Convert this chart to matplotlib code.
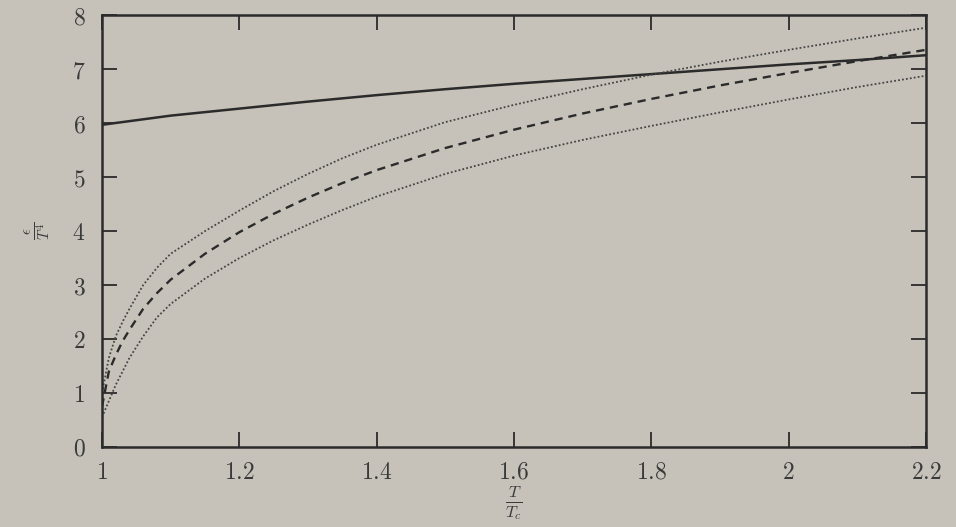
import matplotlib
matplotlib.use("Agg")
import matplotlib.pyplot as plt
from matplotlib.ticker import FuncFormatter

plt.rcParams["mathtext.fontset"] = "cm"
plt.rcParams["font.family"] = ["DejaVu Serif"]

# energy density over T^4 against T/Tc
t_full = [1.0, 1.1, 1.2, 1.3, 1.4, 1.5, 1.6, 1.7, 1.8, 1.9, 2.0, 2.1, 2.2]
eps_solid = [5.97, 6.14, 6.27, 6.40, 6.52, 6.63, 6.73, 6.82, 6.91, 7.00, 7.09, 7.17, 7.26]

t_fit = [1.0, 1.01, 1.02, 1.03, 1.04, 1.06, 1.08, 1.1, 1.15, 1.2, 1.25, 1.3, 1.35,
         1.4, 1.5, 1.6, 1.7, 1.8, 1.9, 2.0, 2.1, 2.2]
eps_mid = [0.75, 1.40, 1.70, 1.96, 2.17, 2.56, 2.85, 3.10, 3.58, 3.98, 4.32, 4.62,
           4.89, 5.13, 5.54, 5.88, 6.18, 6.45, 6.70, 6.93, 7.15, 7.36]
eps_upper = [1.00, 1.65, 2.05, 2.32, 2.56, 3.00, 3.32, 3.58, 4.00, 4.38, 4.74, 5.06,
             5.35, 5.60, 6.02, 6.34, 6.63, 6.90, 7.14, 7.36, 7.57, 7.77]
eps_lower = [0.55, 0.85, 1.15, 1.40, 1.65, 2.05, 2.40, 2.65, 3.12, 3.50, 3.83, 4.12,
             4.39, 4.64, 5.06, 5.40, 5.69, 5.95, 6.20, 6.44, 6.67, 6.88]

xticks = [1, 1.2, 1.4, 1.6, 1.8, 2, 2.2]
yticks = [0, 1, 2, 3, 4, 5, 6, 7, 8]

bg = "#c6c2b9"
ink = "#2b2b2b"

fig = plt.figure(figsize=(9.56, 5.27), dpi=100, facecolor=bg)
ax = fig.add_axes([0.1067, 0.152, 0.862, 0.819], facecolor=bg)

ax.plot(t_full, eps_solid, color=ink, lw=1.8, solid_capstyle="butt")
ax.plot(t_fit, eps_mid, color=ink, lw=1.7, linestyle=(0, (3.5, 2.5)))
ax.plot(t_fit, eps_upper, color="#454543", lw=1.3, linestyle=(0, (1, 1.2)))
ax.plot(t_fit, eps_lower, color="#454543", lw=1.3, linestyle=(0, (1, 1.2)))

ax.set_xlim(1, 2.2)
ax.set_ylim(0, 8)
ax.set_xticks(xticks)
ax.set_yticks(yticks)
ax.xaxis.set_major_formatter(FuncFormatter(lambda v, p: r"$%g$" % v))
ax.yaxis.set_major_formatter(FuncFormatter(lambda v, p: r"$%g$" % v))
ax.tick_params(direction="in", length=11, width=1.3, color=ink,
               top=True, right=True, labelsize=17, labelcolor="#3a3a3a")
ax.tick_params(axis="x", pad=10)
ax.tick_params(axis="y", pad=12)
for s in ax.spines.values():
    s.set_color(ink)
    s.set_linewidth(1.8)

ax.set_xlabel(r"$\frac{T}{T_c}$", fontsize=17, color="#3a3a3a", labelpad=0)
ax.set_ylabel(r"$\frac{\epsilon}{T^4}$", fontsize=15, color="#3a3a3a",
              labelpad=14)

fig.savefig("out.png", dpi=100, facecolor=bg)
